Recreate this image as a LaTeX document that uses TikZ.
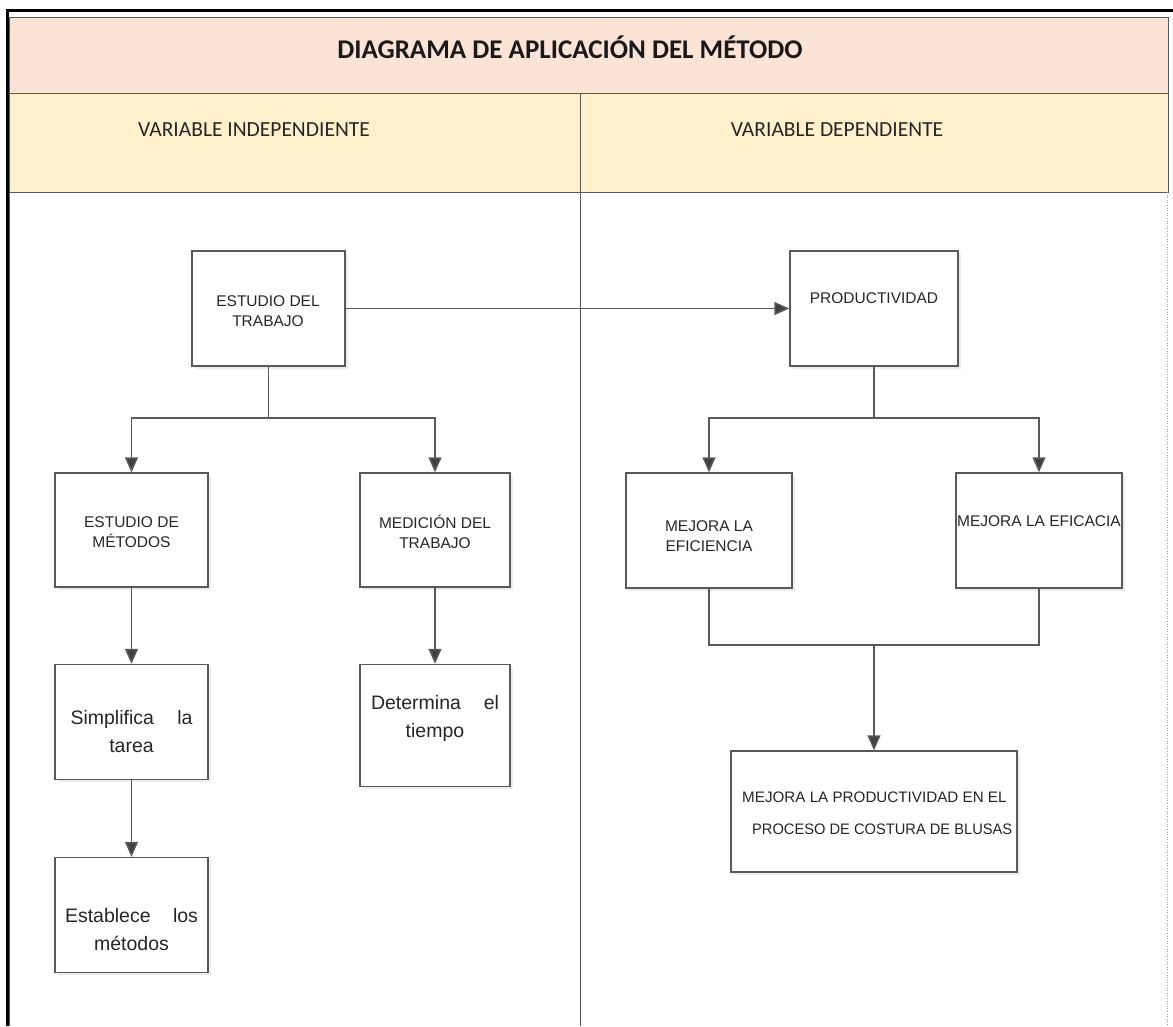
\documentclass[tikz,border=0pt]{standalone}
\usepackage{fontspec}
\setmainfont{Carlito}
\newfontfamily\arialf{Liberation Sans}
\usetikzlibrary{arrows.meta,shadows}
\definecolor{bandpink}{HTML}{FBE4D6}
\definecolor{bandyellow}{HTML}{FFF0CC}
\definecolor{linegray}{HTML}{595959}
\definecolor{tipgray}{HTML}{404040}
\begin{document}
\begin{tikzpicture}[x=1pt,y=-1pt,
  box/.style={draw=linegray,line width=1.4pt,fill=white,inner sep=0pt,
    drop shadow={fill=black!15,shadow xshift=2.5pt,shadow yshift=-2.5pt}},
  small/.style={font=\arialf\fontsize{15.5}{20}\selectfont,text=black!85,align=center,inner sep=0pt},
  large/.style={font=\arialf\fontsize{19.5}{28}\selectfont,text=black!85,align=center,inner sep=0pt},
  wire/.style={draw=linegray,line width=1.5pt},
  arr/.style={wire,-{Triangle[length=15pt,width=13pt,fill=tipgray]}},
  band/.style={draw=gray!70!black,line width=1pt}]
\useasboundingbox (0,0) rectangle (1173,1026);

% header bands
\fill[bandpink] (9,17) rectangle (1168,93);
\fill[bandyellow] (9,93) rectangle (1168,192);
\draw[band] (9,17) rectangle (1168,93);
\draw[band] (9,93) rectangle (1168,192);
\draw[band] (580,93) -- (580,1026);
\draw[band] (9,192) -- (9,1026);
\draw[red!55,line width=0.6pt,dotted] (1167,192) -- (1167,1026);
% outer black frame
\draw[black,line width=3pt] (7,1026) -- (7,10) -- (1173,10);

% header texts
\node[font=\bfseries\fontsize{27}{30}\selectfont,text=black!90] (title) at (570,47) {DIAGRAMA DE APLICACIÓN DEL MÉTODO};
\node[font=\fontsize{21.5}{24}\selectfont,text=black!85] (vi) at (254,130) {VARIABLE INDEPENDIENTE};
\node[font=\fontsize{21.5}{24}\selectfont,text=black!85] (vd) at (837,130) {VARIABLE DEPENDIENTE};

% boxes
\node[box,minimum width=153pt,minimum height=115pt] (est) at (268.5,308.5) {};
\node[box,minimum width=168pt,minimum height=115pt] (prod) at (874,308.5) {};
\node[box,minimum width=153pt,minimum height=114pt] (met) at (131.5,530) {};
\node[box,minimum width=150pt,minimum height=114pt] (med) at (435,530) {};
\node[box,minimum width=166pt,minimum height=115pt] (efi) at (709,530.5) {};
\node[box,minimum width=166pt,minimum height=115pt] (efa) at (1039,530.5) {};
\node[box,minimum width=153pt,minimum height=115pt] (simp) at (131.5,722) {};
\node[box,minimum width=150pt,minimum height=122pt] (det) at (435,725.5) {};
\node[box,minimum width=153pt,minimum height=115pt] (estab) at (131.5,915) {};
\node[box,minimum width=286pt,minimum height=121pt] (mlp) at (874,811.5) {};

% box texts
\node[small] (test) at (268,311) {ESTUDIO DEL\\TRABAJO};
\node[small] (tprod) at (874,298) {PRODUCTIVIDAD};
\node[small] (tmet) at (131.5,532) {ESTUDIO DE\\MÉTODOS};
\node[small] (tmed) at (435,532) {MEDICIÓN DEL\\TRABAJO};
\node[small] (tefi) at (709,536) {MEJORA LA\\EFICIENCIA};
\node[small] (tefa) at (1039,521) {MEJORA LA EFICACIA};
\node[large] (tsimp) at (131.5,732) {\makebox[122pt][s]{Simplifica\hfill la}\\tarea};
\node[large] (tdet) at (435,718) {\makebox[128pt][s]{Determina\hfill el}\\tiempo};
\node[large] (testab) at (131.5,930) {\makebox[133pt][s]{Establece\hfill los}\\métodos};
\node[small,font=\arialf\fontsize{15.2}{20}\selectfont,align=left,anchor=west] (tmlp) at (742,813)
  {MEJORA LA PRODUCTIVIDAD EN EL\\[12pt]\hspace*{10pt}\scalebox{0.965}[1]{PROCESO DE COSTURA DE BLUSAS}};

% junction points
\coordinate (j1) at (268.5,418);
\coordinate (j2) at (874,418);
\coordinate (j3) at (874,645);

% connectors
\draw[arr] (est.east) -- (prod.west);
\draw[wire] (est.south) -- (j1);
\draw[arr] (j1) -| (met.north);
\draw[arr] (j1) -| (med.north);
\draw[wire] (prod.south) -- (j2);
\draw[arr] (j2) -| (efi.north);
\draw[arr] (j2) -| (efa.north);
\draw[wire] (efi.south) |- (j3);
\draw[wire] (efa.south) |- (j3);
\draw[arr] (j3) -- (mlp.north);
\draw[arr] (met.south) -- (simp.north);
\draw[arr] (simp.south) -- (estab.north);
\draw[arr] (med.south) -- (det.north);
\end{tikzpicture}
\end{document}
